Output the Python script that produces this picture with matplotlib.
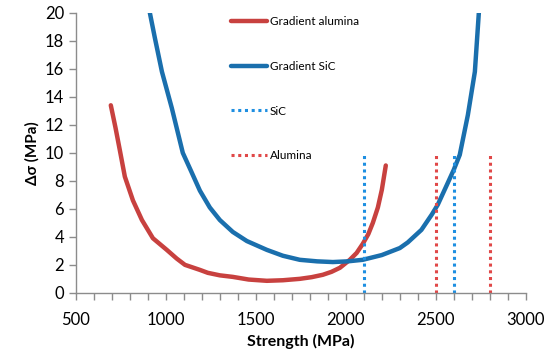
import matplotlib.pyplot as plt
from matplotlib.ticker import MultipleLocator

# Gradient alumina curve
alumina_x = [694, 720, 744, 772, 817, 867, 928, 1005, 1060, 1106, 1189, 1233,
             1300, 1372, 1460, 1561, 1650, 1744, 1810, 1872, 1920, 1967, 2022,
             2060, 2094, 2125, 2150, 2178, 2200, 2222]
alumina_y = [13.4, 11.8, 10.2, 8.3, 6.6, 5.2, 3.9, 3.07, 2.45, 2.0, 1.64, 1.43,
             1.25, 1.14, 0.95, 0.86, 0.9, 1.0, 1.12, 1.29, 1.5, 1.79, 2.36,
             2.85, 3.5, 4.2, 5.0, 6.1, 7.36, 9.1]

# Gradient SiC curve
sic_x = [911, 939, 978, 1033, 1094, 1140, 1189, 1244, 1300, 1372, 1450, 1561,
         1650, 1744, 1840, 1928, 2010, 2094, 2200, 2300, 2344, 2420, 2478,
         2511, 2561, 2600, 2633, 2678, 2717, 2739]
sic_y = [20, 18.2, 15.8, 13.2, 10.0, 8.7, 7.3, 6.1, 5.2, 4.35, 3.7, 3.07,
         2.65, 2.36, 2.25, 2.2, 2.25, 2.36, 2.7, 3.2, 3.6, 4.5, 5.6,
         6.3, 7.7, 8.8, 9.86, 12.7, 15.8, 20]

# strength bounds (vertical dotted lines)
sic_bounds = [2100, 2600]
alumina_bounds = [2500, 2800]
bound_top = 10

RED = "#C8413F"
BLUE = "#1A6FAD"
LBLUE = "#1E8FE1"
LRED = "#E04848"

plt.rcParams['font.family'] = ['Lato', 'DejaVu Sans']

fig = plt.figure(figsize=(5.5, 3.58), dpi=100)
ax = fig.add_axes([0.138, 0.182, 0.818, 0.782])

ax.plot(alumina_x, alumina_y, color=RED, lw=3.2, solid_capstyle='round',
        solid_joinstyle='round', label="Gradient alumina")
ax.plot(sic_x, sic_y, color=BLUE, lw=3.2, solid_capstyle='round',
        solid_joinstyle='round', label="Gradient SiC")
for i, xb in enumerate(sic_bounds):
    ax.plot([xb, xb], [0, bound_top], color=LBLUE, lw=2.2, ls=(0, (1, 1.2)),
            label="SiC" if i == 0 else None)
for i, xb in enumerate(alumina_bounds):
    ax.plot([xb, xb], [0, bound_top], color=LRED, lw=2.2, ls=(0, (1, 1.2)),
            label="Alumina" if i == 0 else None)

ax.set_xlim(500, 3000)
ax.set_ylim(0, 20)
ax.xaxis.set_major_locator(MultipleLocator(500))
ax.xaxis.set_minor_locator(MultipleLocator(100))
ax.yaxis.set_major_locator(MultipleLocator(2))

for s in ['top', 'right']:
    ax.spines[s].set_visible(False)
for s in ['left', 'bottom']:
    ax.spines[s].set_color('#8c8c8c')
    ax.spines[s].set_linewidth(1)
ax.tick_params(which='both', direction='out', color='#8c8c8c', labelsize=12,
               length=5, width=1)
ax.tick_params(axis='x', pad=9)

ax.set_xlabel("Strength (MPa)", fontsize=11.5, fontweight='bold', labelpad=4)
ax.set_ylabel("Δσ (MPa)", fontsize=11, fontweight='bold')

ax.legend(loc='upper left', bbox_to_anchor=(0.335, 1.005), frameon=False,
          fontsize=8.5, labelspacing=2.85, handlelength=3.0, handletextpad=0.25,
          borderaxespad=0)

fig.savefig("out.png", dpi=100)
